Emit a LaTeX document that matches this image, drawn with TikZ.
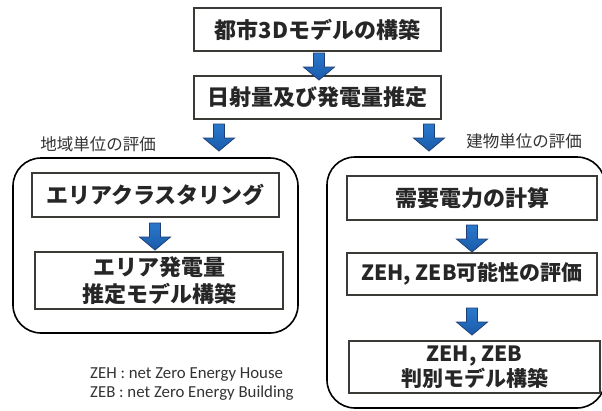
\documentclass[tikz,border=0pt]{standalone}
\usepackage{fontspec}
\newfontfamily\jpfont{Noto Sans CJK JP}
\newfontfamily\notefont{Carlito}
\definecolor{boxline}{HTML}{3B3A36}
\definecolor{txt}{HTML}{262626}
\definecolor{labtxt}{HTML}{333333}
\definecolor{arrA}{HTML}{2A78CC}
\definecolor{arrB}{HTML}{1A5BAA}
\definecolor{arrline}{HTML}{1F3F73}
\begin{document}
\begin{tikzpicture}[x=1pt,y=-1pt,
  box/.style={draw=boxline, line width=1.8pt, fill=white, text=txt, inner sep=0pt, align=center,
    font=\jpfont\bfseries\fontsize{22}{27}\selectfont},
  group/.style={draw=black, line width=1.6pt, rounded corners=28pt, inner sep=0pt},
  lab/.style={text=labtxt, inner sep=0pt, font=\jpfont\fontsize{16.5}{18}\selectfont},
  note/.style={text=labtxt, inner sep=0pt, anchor=west, font=\notefont\fontsize{16.8}{19}\selectfont},
  arrstyle/.style={draw=arrline, line width=0.8pt, top color=arrA, bottom color=arrB, line join=miter},
  darr/.pic={\path[arrstyle] (-5.5,0) -- (-5.5,14) -- (-15.5,14) -- (0,27) -- (15.5,14) -- (5.5,14) -- (5.5,0) -- cycle;}
]
\useasboundingbox (0,0) rectangle (602,410);
\clip (0,0) rectangle (602,410);
\fill[white] (0,0) rectangle (602,410);

% top chain
\node[box, minimum width=247, minimum height=43] (n1) at (317.5,29.5) {都市3Dモデルの構築};
\node[box, minimum width=247, minimum height=43] (n2) at (317.5,97.5) {日射量及び発電量推定};
\pic (a1) at (319,53) {darr};
\pic (a2) at (219,124) {darr};
\pic (a3) at (429,124) {darr};

% labels
\node[lab] (l1) at (98,144) {地域単位の評価};
\node[lab] (l2) at (524,141) {建物単位の評価};

% groups
\node[group, minimum width=285, minimum height=175] (g1) at (155.5,245.5) {};
\node[group, minimum width=278, minimum height=251] (g2) at (466,282.5) {};

% left chain
\node[box, minimum width=247, minimum height=44] (b1) at (155.5,195) {エリアクラスタリング};
\node[box, minimum width=248, minimum height=57] (b2) at (159,280.5) {エリア発電量\\推定モデル構築};
\pic (a4) at (155,223) {darr};

% right chain
\node[box, minimum width=250, minimum height=44] (c1) at (472,198) {需要電力の計算};
\node[box, minimum width=250, minimum height=42, font=\jpfont\bfseries\fontsize{21}{26}\selectfont] (c2) at (472,274) {ZEH, ZEB可能性の評価};
\node[box, minimum width=251, minimum height=52, font=\jpfont\bfseries\fontsize{21}{25}\selectfont] (c3) at (474.5,367) {ZEH, ZEB\\判別モデル構築};
\pic (a5) at (472,225) {darr};
\pic (a6) at (472,308) {darr};

% footnote
\node[note] (f1) at (90,375) {ZEH : net Zero Energy House};
\node[note] (f2) at (90,393) {ZEB : net Zero Energy Building};
\end{tikzpicture}
\end{document}
